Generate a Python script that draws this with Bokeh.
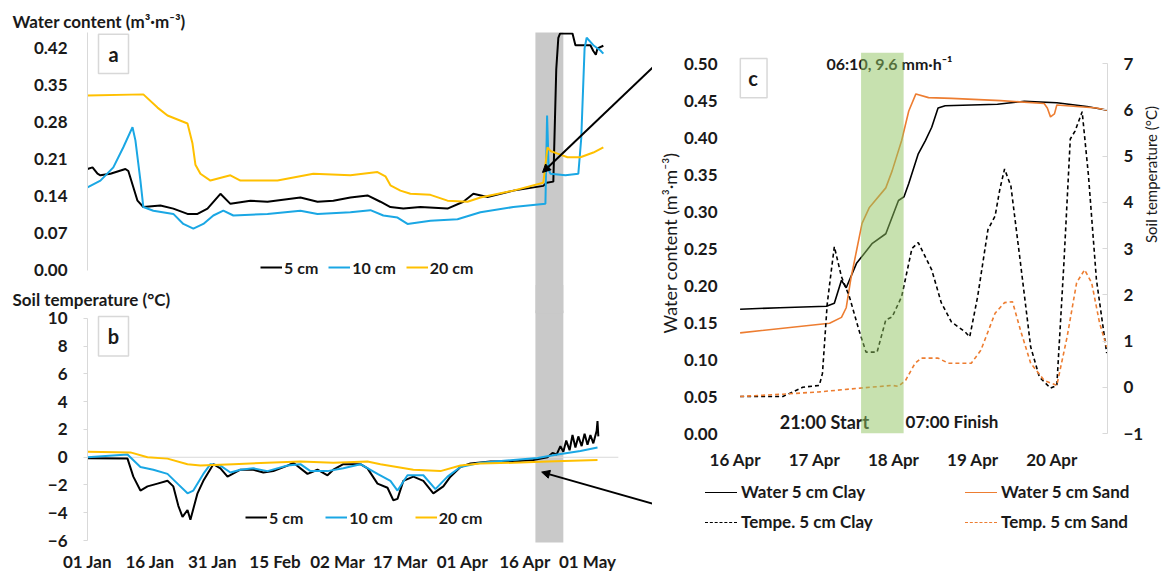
import math
from bokeh.plotting import figure
from bokeh.models import (Range1d, LinearAxis, FixedTicker, NumeralTickFormatter, Div,
                          Label, BoxAnnotation, Arrow, NormalHead, Legend, LegendItem)
from bokeh.layouts import row, column
from bokeh.embed import file_html
from bokeh.resources import INLINE
from bokeh.core.properties import value

FONT = "Lato"
TXT = "#1a1a1a"
AX = "#d9d9d9"

# ---------------- data: panel a (water content, days since 01 Jan) ----------------
wc5_day = [0, 1.2, 2.4, 3.1, 5.5, 9.1, 9.8, 12.0, 13.4, 17.5, 20.6, 24.0, 26.4, 28.8, 31.9, 34.3,
           39.1, 43.2, 51.1, 55.2, 59.0, 63.1, 67.2, 70.3, 72.7, 75.8, 79.9, 86.4, 90.2, 92.6, 96.0,
           102.2, 109.4, 110.2, 111.8, 112.5, 113.0, 113.4, 116.4, 117.1, 120.7, 121.4, 122.0, 122.4, 123.8]
wc5_val = [0.192, 0.195, 0.183, 0.180, 0.183, 0.192, 0.188, 0.132, 0.120, 0.123, 0.117, 0.107, 0.107,
           0.117, 0.145, 0.126, 0.132, 0.130, 0.138, 0.130, 0.132, 0.138, 0.142, 0.130, 0.120, 0.117,
           0.120, 0.117, 0.130, 0.145, 0.139, 0.151, 0.160, 0.166, 0.168, 0.380, 0.440, 0.448, 0.448,
           0.426, 0.426, 0.415, 0.408, 0.420, 0.425]

wc10_day = [0, 3.1, 6.2, 8.6, 10.8, 11.5, 12.7, 13.4, 15.8, 20.6, 23.0, 25.4, 27.8, 30.2, 32.6, 35.0,
            43.2, 51.1, 55.2, 63.1, 67.9, 71.0, 74.4, 76.8, 82.3, 88.8, 94.3, 102.2, 109.9, 110.3,
            110.7, 111.1, 114.7, 117.8, 118.5, 119.3, 119.8, 121.4, 123.1, 123.8]
wc10_val = [0.157, 0.170, 0.195, 0.233, 0.271, 0.246, 0.170, 0.120, 0.113, 0.107, 0.088, 0.079, 0.088,
            0.104, 0.113, 0.104, 0.107, 0.113, 0.107, 0.110, 0.114, 0.104, 0.100, 0.088, 0.094, 0.097,
            0.110, 0.120, 0.126, 0.293, 0.190, 0.183, 0.180, 0.183, 0.250, 0.420, 0.440, 0.426, 0.416,
            0.410]

wc20_day = [0, 13.4, 16.8, 19.2, 24.0, 25.2, 25.9, 27.1, 29.5, 34.3, 36.7, 45.6, 54.2, 63.1, 69.6,
            71.5, 72.7, 75.1, 77.5, 82.3, 86.4, 91.2, 94.3, 102.2, 109.4, 110.4, 111.1, 112.8, 115.2,
            118.3, 121.4, 123.8]
wc20_val = [0.331, 0.333, 0.308, 0.293, 0.278, 0.240, 0.200, 0.183, 0.170, 0.180, 0.170, 0.170, 0.183,
            0.180, 0.186, 0.178, 0.161, 0.151, 0.145, 0.143, 0.132, 0.130, 0.138, 0.151, 0.166, 0.233,
            0.226, 0.221, 0.214, 0.214, 0.223, 0.233]

# ---------------- data: panel b (soil temperature) ----------------
st5_day = [0, 9.6, 11.0, 12.7, 14.4, 16.8, 19.2, 20.6, 21.8, 22.8, 24.0, 24.7, 26.4, 27.8, 30.2, 31.9,
           33.6, 36.7, 39.8, 42.2, 44.6, 48.0, 49.4, 52.8, 55.2, 57.6, 59.0, 61.4, 65.5, 67.2, 69.6,
           72.0, 73.4, 74.4, 75.8, 78.2, 80.6, 83.0, 85.4, 87.1, 89.5, 91.9, 96.7, 102.2, 107.0, 110.4,
           111.6, 112.6, 113.5, 114.2, 114.9, 115.7, 116.4, 117.1, 117.8, 118.6, 119.3, 120.0, 120.7,
           121.4, 122.2, 122.4, 122.6]
st5_val = [-0.07, -0.1, -1.4, -2.4, -2.1, -1.9, -1.7, -2.1, -3.5, -4.3, -3.8, -4.5, -2.6, -1.7, -0.5,
           -0.8, -1.4, -0.9, -0.9, -1.1, -1.0, -0.6, -0.4, -1.2, -0.9, -1.3, -0.9, -0.5, -0.5, -0.8,
           -1.9, -2.2, -3.1, -3.0, -1.7, -1.4, -1.7, -2.6, -2.1, -1.4, -0.7, -0.45, -0.3, -0.3, -0.2,
           0.0, 0.3, 0.2, 0.8, 0.4, 1.2, 0.5, 1.6, 0.7, 1.5, 0.8, 1.7, 0.9, 1.6, 1.0, 1.9, 2.6, 1.5]

st10_day = [0, 9.6, 12.7, 15.8, 19.2, 21.6, 24.0, 25.4, 27.8, 29.5, 31.9, 34.3, 36.7, 39.8, 43.2, 48.0,
            51.1, 53.5, 57.6, 61.4, 65.5, 69.6, 72.7, 74.4, 76.8, 80.6, 83.5, 86.4, 89.5, 94.3, 102.2,
            108.0, 112.8, 118.3, 122.4]
st10_val = [0.0, 0.2, -0.7, -0.9, -1.2, -1.9, -2.6, -2.4, -1.2, -0.5, -0.6, -1.1, -0.9, -0.8, -1.0,
            -0.6, -0.5, -1.0, -1.0, -0.8, -0.5, -1.2, -1.7, -2.4, -1.3, -1.3, -2.3, -1.4, -0.7, -0.4,
            -0.2, -0.05, 0.2, 0.45, 0.7]

st20_day = [0, 10.3, 14.4, 19.2, 24.0, 27.1, 35.0, 51.1, 59.0, 67.2, 70.3, 78.2, 84.7, 89.5, 94.3,
            102.2, 110.4, 122.4]
st20_val = [0.4, 0.35, 0.0, -0.1, -0.5, -0.6, -0.5, -0.3, -0.4, -0.3, -0.5, -0.9, -1.0, -0.6, -0.45,
            -0.4, -0.3, -0.2]

event_days = [107.5, 114.2]          # grey highlighted period in a and b
date_ticks = [0, 15, 30, 45, 60, 75, 90, 105, 120]
date_labels = ["01 Jan", "16 Jan", "31 Jan", "15 Feb", "02 Mar", "17 Mar", "01 Apr", "16 Apr", "01 May"]
wc_ticks = [0, 0.07, 0.14, 0.21, 0.28, 0.35, 0.42]
temp_ticks = [-6, -4, -2, 0, 2, 4, 6, 8, 10]

# ---------------- data: panel c (days since 16 Apr) ----------------
c_wclay_day = [0.06, 0.56, 1.15, 1.25, 1.34, 1.40, 1.53, 1.73, 1.90, 2.06, 2.13, 2.19, 2.31, 2.40,
               2.48, 2.56, 2.65, 3.31, 3.65, 4.06, 4.44, 4.70]
c_wclay_val = [0.168, 0.170, 0.172, 0.176, 0.207, 0.197, 0.230, 0.257, 0.270, 0.315, 0.320, 0.338,
               0.378, 0.396, 0.414, 0.440, 0.443, 0.445, 0.449, 0.447, 0.442, 0.437]

c_wsand_day = [0.06, 1.19, 1.34, 1.40, 1.46, 1.53, 1.60, 1.69, 1.90, 1.98, 2.10, 2.19, 2.28, 2.44,
               2.73, 3.35, 3.90, 3.94, 3.98, 4.03, 4.06, 4.56, 4.70]
c_wsand_val = [0.136, 0.149, 0.157, 0.170, 0.210, 0.247, 0.284, 0.305, 0.332, 0.355, 0.396, 0.436,
               0.459, 0.454, 0.453, 0.450, 0.446, 0.440, 0.428, 0.432, 0.444, 0.440, 0.437]

c_tclay_day = [0.06, 0.60, 0.85, 1.06, 1.10, 1.16, 1.21, 1.25, 1.34, 1.44, 1.56, 1.65, 1.79, 1.90,
               1.98, 2.10, 2.23, 2.31, 2.48, 2.60, 2.73, 2.90, 2.96, 3.06, 3.19, 3.28, 3.34, 3.40,
               3.48, 3.60, 3.73, 3.84, 3.98, 4.06, 4.15, 4.23, 4.29, 4.38, 4.46, 4.56, 4.69]
c_tclay_val = [-0.2, -0.2, 0.0, 0.04, 0.3, 1.8, 2.5, 3.04, 2.39, 1.96, 1.24, 0.76, 0.76, 1.46, 1.52,
               1.96, 3.0, 3.13, 2.54, 1.83, 1.41, 1.2, 1.09, 1.96, 3.41, 3.7, 4.28, 4.72, 4.35, 2.7,
               0.87, 0.22, -0.02, 0.04, 2.7, 5.37, 5.54, 5.96, 4.57, 2.33, 0.74]

c_tsand_day = [0.06, 0.60, 1.06, 1.56, 1.98, 2.06, 2.15, 2.27, 2.35, 2.56, 2.69, 2.98, 3.10, 3.28,
               3.40, 3.50, 3.60, 3.73, 3.90, 4.06, 4.19, 4.31, 4.41, 4.50, 4.60, 4.69]
c_tsand_val = [-0.2, -0.15, -0.1, -0.02, 0.04, 0.02, 0.15, 0.52, 0.63, 0.63, 0.52, 0.52, 0.8, 1.6,
               1.83, 1.85, 1.24, 0.52, 0.15, 0.04, 1.09, 2.26, 2.54, 2.26, 1.39, 0.87]

rain_days = [1.5875, 2.125]           # green rainfall period
c_day_ticks = [0, 1, 2, 3, 4]
c_day_labels = ["16 Apr", "17 Apr", "18 Apr", "19 Apr", "20 Apr"]
c_wc_ticks = [0, 0.05, 0.10, 0.15, 0.20, 0.25, 0.30, 0.35, 0.40, 0.45, 0.50]
c_temp_ticks = [-1, 0, 1, 2, 3, 4, 5, 6, 7]
c_legend_labels = ["Water 5 cm Clay", "Tempe. 5 cm Clay", "Water 5 cm Sand", "Temp. 5 cm Sand"]

BLACK = "#000000"
BLUE = "#1aa7e4"
GOLD = "#ffc000"
ORANGE = "#ed7d31"
GREY_BAND = "#c9c9c9"

LEFT_W = 652                      # width of the a/b column
PX_PER_DAY = 62.5 / 15


def style_common(p):
    p.outline_line_color = None
    p.xgrid.visible = False
    p.ygrid.visible = False
    p.background_fill_color = "white"
    p.border_fill_color = "white"


def style_ticks(ax, size="17px"):
    ax.major_label_text_font = FONT
    ax.major_label_text_font_size = size
    ax.major_label_text_font_style = "bold"
    ax.major_label_text_color = TXT
    ax.minor_tick_line_color = None
    ax.minor_tick_out = 0
    ax.minor_tick_in = 0


def style_title(p, text):
    p.title.text = text
    p.title.align = "left"
    p.title.offset = -75
    p.title.standoff = 2
    p.title.text_font = FONT
    p.title.text_font_size = "17px"
    p.title.text_font_style = "bold"
    p.title.text_color = TXT


def box_label(p, left, right, bottom, top, cx, cy, letter):
    p.add_layout(BoxAnnotation(left=left, right=right, bottom=bottom, top=top,
                               fill_color="white", fill_alpha=1.0,
                               line_color="#7f7f7f", line_width=1.5))
    p.add_layout(Label(x=cx, y=cy, text=letter, text_font=FONT, text_font_size="20px",
                       text_font_style="bold", text_align="center", text_baseline="middle",
                       text_color=TXT))


def make_legend(renderers, loc, spacing):
    items = [LegendItem(label=l, renderers=[r]) for l, r in zip(["5 cm", "10 cm", "20 cm"], renderers)]
    return Legend(items=items, orientation="horizontal", location=loc, padding=0, margin=0,
                  spacing=spacing, glyph_width=22, glyph_height=20, label_standoff=2,
                  border_line_color=None, background_fill_alpha=0,
                  label_text_font=FONT, label_text_font_size="16px", label_text_font_style="bold",
                  label_text_color=TXT)


xr = Range1d(0, (LEFT_W - 87) / PX_PER_DAY)

# ---------------- panel a ----------------
pa = figure(width=LEFT_W, height=285, x_range=xr, y_range=Range1d(-0.0284, 0.45),
            output_backend="svg", toolbar_location=None,
            min_border_left=87, min_border_right=0, min_border_top=32, min_border_bottom=0)
style_common(pa)
pa.xaxis.visible = False
pa.yaxis.ticker = FixedTicker(ticks=wc_ticks)
pa.yaxis.formatter = NumeralTickFormatter(format="0.00")
pa.yaxis.bounds = (0, 0.45)
pa.yaxis.axis_line_color = AX
pa.yaxis.major_tick_line_color = None
pa.yaxis.major_tick_out = 0
pa.yaxis.major_label_standoff = 20
style_ticks(pa.yaxis)
style_title(pa, "Water content (m³·m⁻³)")

pa.quad(left=[event_days[0]], right=[event_days[1]], bottom=[-1], top=[1], fill_color=GREY_BAND, line_color=None)
ra5 = pa.line(wc5_day, wc5_val, line_color=BLACK, line_width=2)
ra10 = pa.line(wc10_day, wc10_val, line_color=BLUE, line_width=2)
ra20 = pa.line(wc20_day, wc20_val, line_color=GOLD, line_width=2)
pa.add_layout(make_legend([ra5, ra10, ra20], (173, 8), 10))
pa.add_layout(Arrow(end=NormalHead(size=8, fill_color="black", line_color="black"),
                    x_start=137.4, y_start=0.397, x_end=109.2, y_end=0.1854,
                    line_color="black", line_width=2))
box_label(pa, 2.64, 9.84, 0.3727, 0.4465, 6.24, 0.41, "a")

# ---------------- panel b ----------------
b_top = (457 - 309) / 14.0
pb = figure(width=LEFT_W, height=289, x_range=xr, y_range=Range1d(-86 / 14.0, b_top),
            output_backend="svg", toolbar_location=None,
            min_border_left=87, min_border_right=0, min_border_top=24, min_border_bottom=31)
style_common(pb)
style_title(pb, "Soil temperature (°C)")
pb.xaxis.ticker = FixedTicker(ticks=date_ticks)
pb.xaxis.major_label_overrides = {t: l for t, l in zip(date_ticks, date_labels)}
pb.xaxis.axis_line_color = None
pb.xaxis.major_tick_line_color = None
pb.xaxis.major_tick_out = 0
pb.xaxis.major_label_standoff = 8
style_ticks(pb.xaxis)
pb.yaxis.ticker = FixedTicker(ticks=temp_ticks)
pb.yaxis.bounds = (-6, 10)
pb.yaxis.axis_line_color = AX
pb.yaxis.major_tick_line_color = AX
pb.yaxis.major_tick_out = 4
pb.yaxis.major_tick_in = 0
pb.yaxis.major_label_standoff = 16
style_ticks(pb.yaxis)

# grey period continues through the title strip above panel b (unclipped side-panel patch)
try:
    pb.add_layout(Label(x=sum(event_days) / 2, y=b_top + 12 / 14.0, text=" ", text_font_size="1px",
                        text_align="center", text_baseline="middle",
                        background_fill_color=GREY_BAND, background_fill_alpha=1.0,
                        border_line_color=None, padding=14), "left")
except Exception:
    pass
pb.quad(left=[event_days[0]], right=[event_days[1]], bottom=[-100], top=[100], fill_color=GREY_BAND, line_color=None)
pb.segment(x0=[date_ticks[0]], y0=[0], x1=[127.4], y1=[0], line_color=AX, line_width=1.2)
rb5 = pb.line(st5_day, st5_val, line_color=BLACK, line_width=2)
rb10 = pb.line(st10_day, st10_val, line_color=BLUE, line_width=2)
rb20 = pb.line(st20_day, st20_val, line_color=GOLD, line_width=2)
pb.add_layout(make_legend([rb5, rb10, rb20], (158, 15), 22))
pb.add_layout(Arrow(end=NormalHead(size=8, fill_color="black", line_color="black"),
                    x_start=136.6, y_start=-3.43, x_end=109.0, y_end=-1.07,
                    line_color="black", line_width=2))
box_label(pb, 2.64, 9.84, 7.29, 10.14, 6.24, 8.71, "b")

# ---------------- panel c ----------------
PC_W = 1172 - LEFT_W
pc = figure(width=PC_W, height=474, x_range=Range1d(-0.1625, 4.7), y_range=Range1d(0, 0.515),
            output_backend="svg", toolbar_location=None,
            min_border_left=722 - LEFT_W, min_border_right=61, min_border_top=52, min_border_bottom=41)
style_common(pc)
pc.extra_y_ranges = {"temp": Range1d(-1, -1 + 16 * 0.515)}
pc.xaxis.ticker = FixedTicker(ticks=c_day_ticks)
pc.xaxis.major_label_overrides = {t: l for t, l in zip(c_day_ticks, c_day_labels)}
pc.xaxis.axis_line_color = None
pc.xaxis.major_tick_line_color = None
pc.xaxis.major_tick_out = 0
pc.xaxis.major_label_standoff = 15
style_ticks(pc.xaxis)
pc.yaxis.ticker = FixedTicker(ticks=c_wc_ticks)
pc.yaxis.formatter = NumeralTickFormatter(format="0.00")
pc.yaxis.axis_line_color = None
pc.yaxis.major_tick_line_color = None
pc.yaxis.major_tick_out = 0
pc.yaxis.major_label_standoff = 5
pc.yaxis.axis_label = "Water content (m³·m⁻³)"
pc.yaxis.axis_label_standoff = 0
pc.yaxis.axis_label_text_font = FONT
pc.yaxis.axis_label_text_font_size = "18px"
pc.yaxis.axis_label_text_font_style = "normal"
pc.yaxis.axis_label_text_color = TXT
style_ticks(pc.yaxis)

raxis = LinearAxis(y_range_name="temp", ticker=FixedTicker(ticks=c_temp_ticks), bounds=(-1, 7),
                   axis_line_color=AX, major_tick_line_color=AX, major_tick_in=5, major_tick_out=0,
                   major_label_standoff=16, axis_label="Soil temperature (°C)", axis_label_standoff=5,
                   axis_label_orientation=math.pi / 2,
                   axis_label_text_font=FONT, axis_label_text_font_size="15px",
                   axis_label_text_font_style="normal", axis_label_text_color=TXT)
style_ticks(raxis)
pc.add_layout(raxis, "right")

pc.text(x=[1.15], y=[0.5], text=["06:10, 9.6 mm·h⁻¹"], text_font=value(FONT), text_font_size="16px",
        text_font_style="bold", text_baseline="middle", text_align="left", text_color=TXT)
pc.text(x=[0.56], y=[0.016], text=["21:00 Start"], text_font=value(FONT), text_font_size="18px",
        text_font_style="bold", text_baseline="middle", text_align="left", text_color=TXT)
pc.text(x=[2.15], y=[0.016], text=["07:00 Finish"], text_font=value(FONT), text_font_size="17px",
        text_font_style="bold", text_baseline="middle", text_align="left", text_color=TXT)

pc.line(c_wclay_day, c_wclay_val, line_color=BLACK, line_width=1.6)
pc.line(c_wsand_day, c_wsand_val, line_color=ORANGE, line_width=1.6)
pc.line(c_tclay_day, c_tclay_val, line_color=BLACK, line_width=1.6, line_dash="4 3", y_range_name="temp")
pc.line(c_tsand_day, c_tsand_val, line_color=ORANGE, line_width=1.6, line_dash="4 3", y_range_name="temp")

pc.quad(left=[rain_days[0]], right=[rain_days[1]], bottom=[0], top=[0.515],
        fill_color="#8fc45f", fill_alpha=0.5, line_color=None)

box_label(pc, 0.0625, 0.4, 0.454, 0.5068, 0.225, 0.48, "c")

# ---------------- legend strip under panel c ----------------
def leg_entry(left, top, color, style, label):
    return (f'<div style="position:absolute;left:{left}px;top:{top}px;height:20px;display:flex;'
            f'align-items:center;white-space:nowrap;">'
            f'<span style="display:inline-block;width:32px;height:0;border-top:1.5px {style} {color};'
            f'margin-right:4px;"></span>{label}</div>')

ox = 705 - LEFT_W
leg_html = (f'<div style="position:relative;width:{PC_W}px;height:100px;font-family:Lato,sans-serif;'
            f'font-size:17px;font-weight:bold;color:{TXT};">'
            + leg_entry(ox, 8, BLACK, "solid", c_legend_labels[0])
            + leg_entry(ox, 38, BLACK, "dashed", c_legend_labels[1])
            + leg_entry(ox + 260, 8, ORANGE, "solid", c_legend_labels[2])
            + leg_entry(ox + 260, 38, ORANGE, "dashed", c_legend_labels[3])
            + '</div>')
pl = Div(text=leg_html, width=PC_W, height=100, margin=0)

layout = row(column(pa, pb), column(pc, pl))
open("out.html", "w").write(file_html(layout, INLINE))
